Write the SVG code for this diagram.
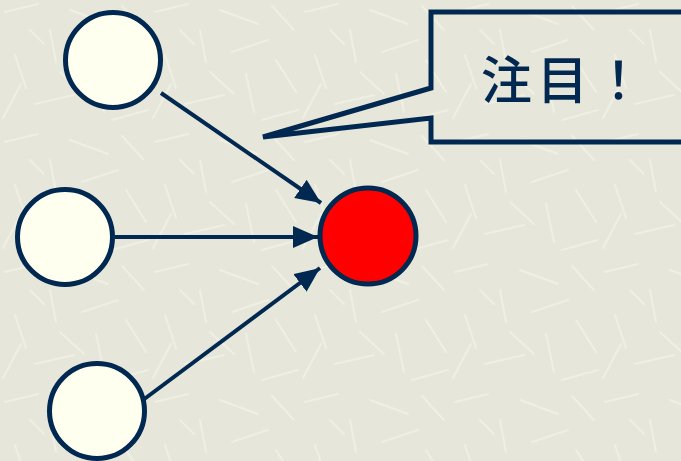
<svg xmlns="http://www.w3.org/2000/svg" width="681" height="461" viewBox="0 0 681 461">
  <defs>
    <pattern id="paper" width="150" height="130" patternUnits="userSpaceOnUse">
      <rect width="150" height="130" fill="#e6e6da"/>
      <g stroke="#f1f1e5" stroke-width="2" stroke-linecap="round" opacity="0.8">
        <line x1="5" y1="12" x2="38" y2="4"/>
        <line x1="50" y1="30" x2="56" y2="62"/>
        <line x1="70" y1="10" x2="108" y2="24"/>
        <line x1="15" y1="55" x2="26" y2="88"/>
        <line x1="82" y1="52" x2="118" y2="40"/>
        <line x1="35" y1="104" x2="74" y2="95"/>
        <line x1="96" y1="74" x2="104" y2="112"/>
        <line x1="3" y1="118" x2="21" y2="84"/>
        <line x1="60" y1="72" x2="84" y2="94"/>
        <line x1="122" y1="6" x2="144" y2="30"/>
        <line x1="126" y1="60" x2="146" y2="92"/>
        <line x1="112" y1="120" x2="148" y2="110"/>
        <line x1="30" y1="30" x2="44" y2="44"/>
      </g>
    </pattern>
    <marker id="head" markerUnits="userSpaceOnUse" markerWidth="26" markerHeight="24" refX="25" refY="11" orient="auto">
      <path d="M0,0 L25,11 L0,22 Z" fill="#002850"/>
    </marker>
    <style>
      .node { fill: #fffff0; stroke: #002850; stroke-width: 5; }
      .hot { fill: #ff0000; stroke: #002850; stroke-width: 5; }
      .edge { stroke: #002850; stroke-width: 4; fill: none; marker-end: url(#head); }
      .callout { fill: none; stroke: #002850; stroke-width: 5; stroke-linejoin: miter; }
      .label { font-family: "Noto Sans CJK JP", "Noto Sans CJK SC", sans-serif; font-weight: 500; font-size: 51px; letter-spacing: 5px; fill: #002850; }
    </style>
  </defs>

  <rect width="681" height="461" fill="url(#paper)"/>

  <g id="connectors">
    <line class="edge" x1="161" y1="93" x2="321" y2="203"/>
    <line class="edge" x1="115" y1="237" x2="318" y2="237"/>
    <line class="edge" x1="143" y1="400" x2="320" y2="268"/>
  </g>

  <g id="node-top"><circle class="node" cx="113" cy="60" r="47.5"/></g>
  <g id="node-middle"><circle class="node" cx="65" cy="237" r="47.5"/></g>
  <g id="node-bottom"><circle class="node" cx="97" cy="411" r="47.5"/></g>
  <g id="node-target"><circle class="hot" cx="368" cy="236" r="48"/></g>

  <g id="callout">
    <path class="callout" d="M431,88 L263,137 L431,118 L431,142 L690,142 L690,12 L431,12 Z"/>
    <text class="label" x="481" y="99">注目！</text>
  </g>
</svg>
